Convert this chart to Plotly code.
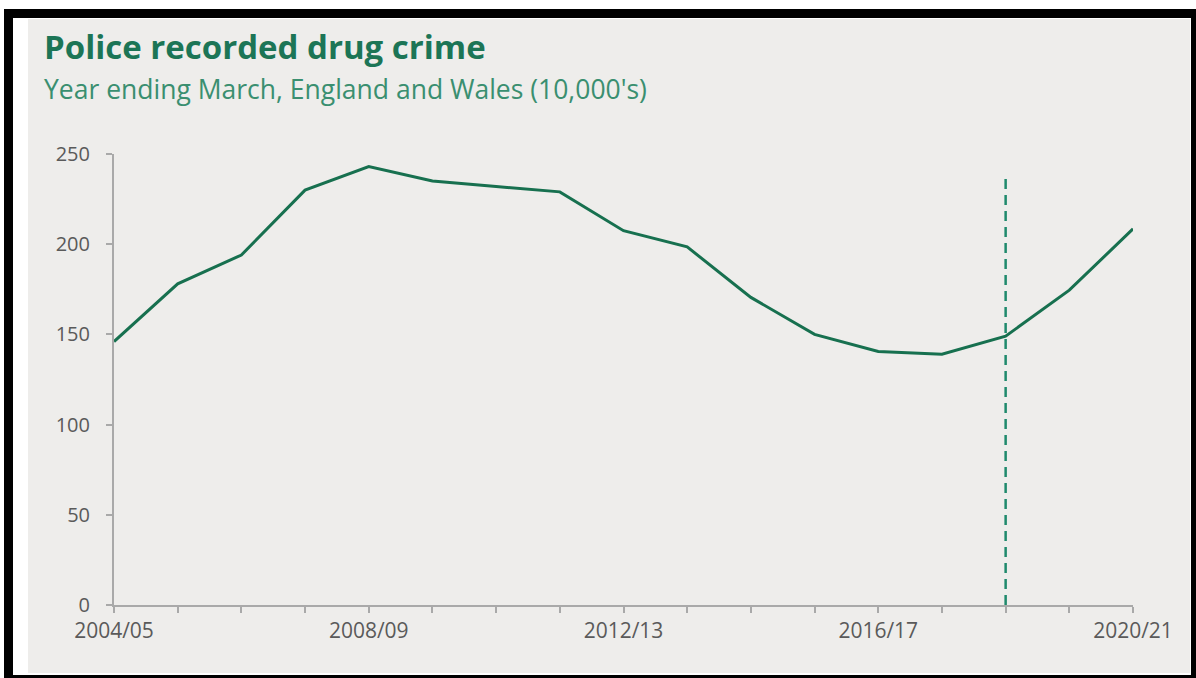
import plotly.graph_objects as go

# ---- data ----
years = ["2004/05", "2005/06", "2006/07", "2007/08", "2008/09", "2009/10", "2010/11",
         "2011/12", "2012/13", "2013/14", "2014/15", "2015/16", "2016/17", "2017/18",
         "2018/19", "2019/20", "2020/21"]
offences = [146, 178, 194, 230, 243, 235, 232, 229, 207.5, 198.5, 170.5, 150, 140.5,
            139, 149, 174.5, 208.5]
y_ticks = [0, 50, 100, 150, 200, 250]
labelled_years = ["2004/05", "2008/09", "2012/13", "2016/17", "2020/21"]
marker_year = "2018/19"
marker_top = 237

title_text = "Police recorded drug crime"
subtitle_text = "Year ending March, England and Wales (10,000's)"

# ---- geometry (pixels) ----
W, H = 1196, 678
L, R, T, B = 114, 1133, 154, 605


def px(x):
    return (x - L) / (R - L)


def py(y):
    return (B - y) / (B - T)


GREEN = "#17704f"
DASH_GREEN = "#1f8a6c"
TITLE_GREEN = "#1c7556"
SUB_GREEN = "#3a8f70"
BG = "#eeedeb"
AXIS = "#a9a9a9"
TICKTXT = "#5a5a5a"

fig = go.Figure()
fig.add_trace(go.Scatter(
    x=years, y=offences, mode="lines",
    line=dict(color=GREEN, width=3),
    hoverinfo="x+y", showlegend=False,
))
fig.add_trace(go.Scatter(
    x=[marker_year, marker_year], y=[0, marker_top], mode="lines",
    line=dict(color=DASH_GREEN, width=2.5, dash="10px,6px"),
    hoverinfo="skip", showlegend=False,
))

shapes = [
    dict(type="rect", xref="paper", yref="paper", layer="below",
         x0=px(4), x1=px(1196), y0=py(678), y1=py(9),
         fillcolor="#000000", line=dict(width=0)),
    dict(type="rect", xref="paper", yref="paper", layer="below",
         x0=px(13), x1=px(1191), y0=py(675), y1=py(18),
         fillcolor="#ffffff", line=dict(width=0)),
    dict(type="rect", xref="paper", yref="paper", layer="below",
         x0=px(28), x1=px(1190), y0=py(673), y1=py(19),
         fillcolor=BG, line=dict(width=0)),
]

annotations = [
    dict(text="<b>" + title_text + "</b>", xref="paper", yref="paper",
         x=px(42), y=py(47), xanchor="left", yanchor="middle", showarrow=False,
         font=dict(family="Open Sans", size=33, color=TITLE_GREEN)),
    dict(text=subtitle_text, xref="paper", yref="paper",
         x=px(42), y=py(89), xanchor="left", yanchor="middle", showarrow=False,
         font=dict(family="Open Sans", size=26.5, color=SUB_GREEN)),
]

fig.update_layout(
    width=W, height=H,
    margin=dict(l=L, r=W - R, t=T, b=H - B, pad=0),
    paper_bgcolor="#ffffff",
    plot_bgcolor="rgba(0,0,0,0)",
    shapes=shapes,
    annotations=annotations,
    font=dict(family="Open Sans", color=TICKTXT),
)

fig.update_xaxes(
    type="category", range=[0, len(years) - 1],
    tickmode="array", tickvals=years,
    ticktext=[y if y in labelled_years else "" for y in years],
    showline=True, linecolor=AXIS, linewidth=2,
    ticks="outside", ticklen=6, tickwidth=1.5, tickcolor=AXIS,
    showgrid=False, zeroline=False,
    tickfont=dict(family="Open Sans", size=21, color=TICKTXT),
)
fig.update_yaxes(
    range=[0, 250], tickmode="array", tickvals=y_ticks,
    showline=True, linecolor=AXIS, linewidth=2,
    ticks="outside", ticklen=6, tickwidth=1.5, tickcolor=AXIS,
    showgrid=False, zeroline=False, ticklabelstandoff=12,
    tickfont=dict(family="Open Sans", size=20, color=TICKTXT),
)

fig.write_html(
    "out.html",
    config={"displayModeBar": False},
    post_script="document.body.style.margin='0';document.body.style.overflow='hidden';",
)
